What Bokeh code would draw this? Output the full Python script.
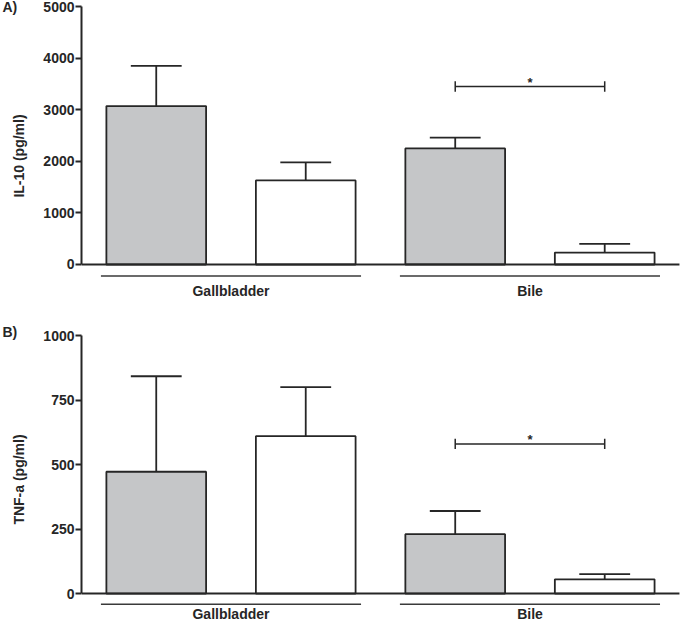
from bokeh.plotting import figure
from bokeh.models import Range1d, FixedTicker, Column
from bokeh.embed import file_html
from bokeh.resources import INLINE
from bokeh.core.properties import value

# ---- data ----
groups = ["Gallbladder", "Bile"]
positions = [1, 2, 3, 4]
il10_mean = [3070, 1630, 2250, 230]
il10_err = [780, 350, 210, 170]
tnf_mean = [472, 610, 230, 55]
tnf_err = [370, 190, 90, 20]
il10_ticks = [0, 1000, 2000, 3000, 4000, 5000]
tnf_ticks = [0, 250, 500, 750, 1000]
il10_sig = 3450
tnf_sig = 580

FONT = "Liberation Sans"
INK = "#262626"
GRAY = "#c5c6c8"
fills = [GRAY, "white", GRAY, "white"]


def panel(letter, ylabel, means, errs, ticks, sig_y, height, top_border, ymin,
          line_y, label_y, brack_h, title_standoff):
    ymax = ticks[-1]
    p = figure(width=680, height=height, output_backend="svg", toolbar_location=None,
               x_range=Range1d(0.5, 4.507), y_range=Range1d(ymin, ymax),
               x_axis_location=None, min_border_left=81, min_border_right=0,
               min_border_top=top_border, min_border_bottom=0)
    p.outline_line_color = None
    p.grid.visible = False
    p.background_fill_color = "white"
    p.border_fill_color = "white"

    ax = p.yaxis[0]
    ax.ticker = FixedTicker(ticks=ticks)
    ax.bounds = (0, ymax)
    ax.axis_line_width = 2
    ax.axis_line_color = INK
    ax.major_tick_line_width = 2
    ax.major_tick_line_color = INK
    ax.major_tick_out = 6
    ax.major_tick_in = 0
    ax.minor_tick_line_color = None
    ax.major_label_text_font = FONT
    ax.major_label_text_font_style = "bold"
    ax.major_label_text_font_size = "14px"
    ax.major_label_text_color = INK
    ax.major_label_standoff = 1
    ax.axis_label = ylabel
    ax.axis_label_text_font = FONT
    ax.axis_label_text_font_style = "bold"
    ax.axis_label_text_font_size = "14px"
    ax.axis_label_text_color = INK
    ax.axis_label_standoff = 13

    # bars
    p.vbar(x=positions, width=0.667, bottom=0, top=means, fill_color=fills,
           line_color=INK, line_width=1.8)
    # error bars (upper only)
    tops = [m + e for m, e in zip(means, errs)]
    p.segment(x0=positions, y0=means, x1=positions, y1=tops, line_color=INK, line_width=1.8)
    p.segment(x0=[x - 0.17 for x in positions], y0=tops,
              x1=[x + 0.17 for x in positions], y1=tops, line_color=INK, line_width=1.8)
    # baseline
    p.segment(x0=[0.5], y0=[0], x1=[4.5], y1=[0], line_color=INK, line_width=2)

    # significance bracket between the two Bile bars
    p.segment(x0=[3], y0=[sig_y], x1=[4], y1=[sig_y], line_color=INK, line_width=1.5)
    p.segment(x0=[3, 4], y0=[sig_y - brack_h] * 2, x1=[3, 4], y1=[sig_y + brack_h] * 2,
              line_color=INK, line_width=1.5)
    p.text(x=[3.5], y=[sig_y], text=["*"], text_font=value(FONT), text_font_style="bold",
           text_font_size="13px", text_color=INK, text_align="center",
           text_baseline="middle", y_offset=-4)

    # group lines and labels
    centers = [1.5, 3.5]
    p.segment(x0=[c - 0.87 for c in centers], y0=[line_y] * 2,
              x1=[c + 0.87 for c in centers], y1=[line_y] * 2,
              line_color="#3a3a3a", line_width=1.5)
    p.text(x=centers, y=[label_y] * 2, text=groups, text_font=value(FONT),
           text_font_style="bold", text_font_size="14px", text_color=INK,
           text_align="center", text_baseline="middle")

    # panel letter
    p.title.text = letter
    p.title.align = "left"
    p.title.offset = -79
    p.title.standoff = title_standoff
    p.title.text_font = FONT
    p.title.text_font_style = "bold"
    p.title.text_font_size = "14px"
    p.title.text_color = INK
    return p


pa = panel("A)", "IL-10 (pg/ml)", il10_mean, il10_err, il10_ticks, il10_sig,
           height=305, top_border=6, ymin=-795, line_y=-223, label_y=-523, brack_h=100,
           title_standoff=-17)
pb = panel("B)", "TNF-a (pg/ml)", tnf_mean, tnf_err, tnf_ticks, tnf_sig,
           height=318, top_border=30, ymin=-116, line_y=-41, label_y=-78, brack_h=20,
           title_standoff=-9)

layout = Column(children=[pa, pb], spacing=0)
open("out.html", "w").write(file_html(layout, INLINE))
